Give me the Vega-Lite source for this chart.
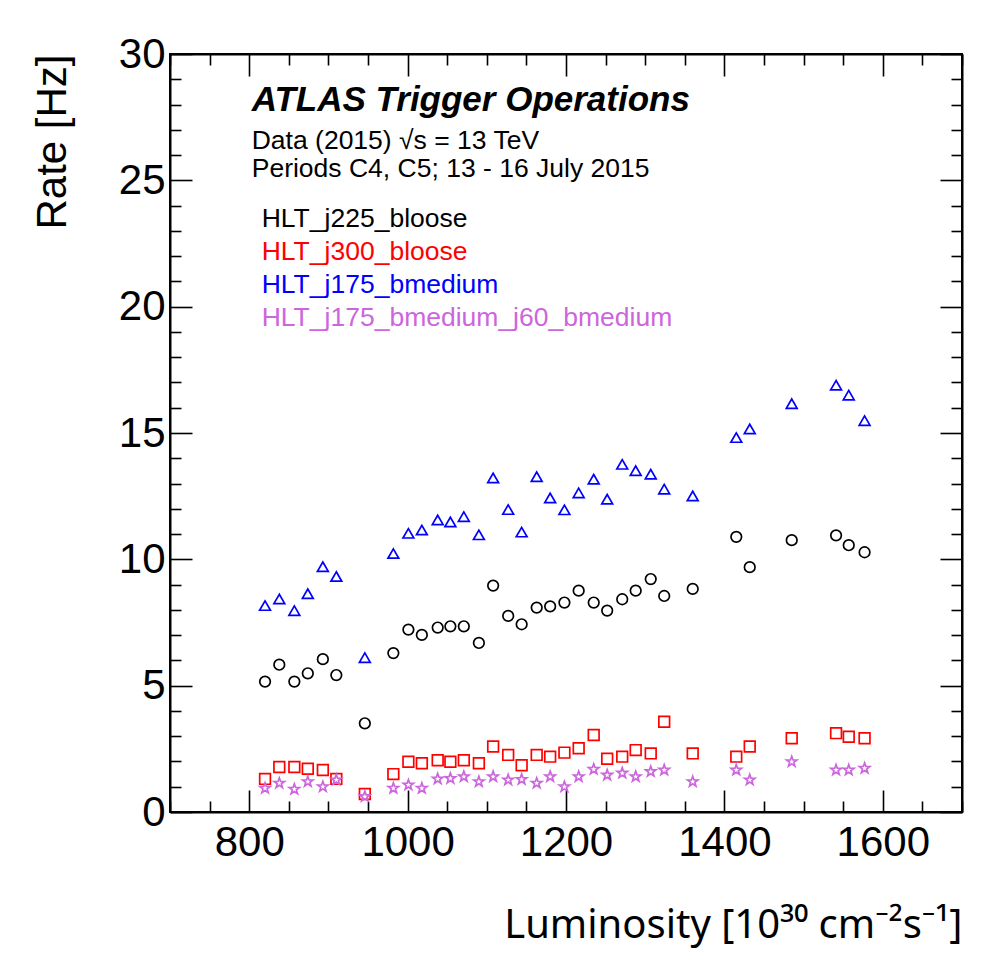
{
  "$schema": "https://vega.github.io/schema/vega-lite/v6.json",
  "width": 792,
  "height": 758,
  "autosize": {"type": "none"},
  "padding": {"left": 170, "top": 54, "right": 31, "bottom": 151},
  "background": "white",
  "config": {"view": {"stroke": "black", "strokeWidth": 2}, "font": "Liberation Sans"},
  "datasets": {
    "rates": [
      {"lumi": 820, "rate": 5.16, "trigger": "HLT_j225_bloose"},
      {"lumi": 838, "rate": 5.83, "trigger": "HLT_j225_bloose"},
      {"lumi": 857, "rate": 5.16, "trigger": "HLT_j225_bloose"},
      {"lumi": 874, "rate": 5.49, "trigger": "HLT_j225_bloose"},
      {"lumi": 893, "rate": 6.05, "trigger": "HLT_j225_bloose"},
      {"lumi": 910, "rate": 5.42, "trigger": "HLT_j225_bloose"},
      {"lumi": 946, "rate": 3.51, "trigger": "HLT_j225_bloose"},
      {"lumi": 982, "rate": 6.29, "trigger": "HLT_j225_bloose"},
      {"lumi": 1001, "rate": 7.22, "trigger": "HLT_j225_bloose"},
      {"lumi": 1018, "rate": 7.01, "trigger": "HLT_j225_bloose"},
      {"lumi": 1038, "rate": 7.30, "trigger": "HLT_j225_bloose"},
      {"lumi": 1054, "rate": 7.35, "trigger": "HLT_j225_bloose"},
      {"lumi": 1071, "rate": 7.35, "trigger": "HLT_j225_bloose"},
      {"lumi": 1090, "rate": 6.69, "trigger": "HLT_j225_bloose"},
      {"lumi": 1108, "rate": 8.96, "trigger": "HLT_j225_bloose"},
      {"lumi": 1127, "rate": 7.76, "trigger": "HLT_j225_bloose"},
      {"lumi": 1144, "rate": 7.43, "trigger": "HLT_j225_bloose"},
      {"lumi": 1163, "rate": 8.09, "trigger": "HLT_j225_bloose"},
      {"lumi": 1180, "rate": 8.14, "trigger": "HLT_j225_bloose"},
      {"lumi": 1198, "rate": 8.29, "trigger": "HLT_j225_bloose"},
      {"lumi": 1216, "rate": 8.76, "trigger": "HLT_j225_bloose"},
      {"lumi": 1235, "rate": 8.29, "trigger": "HLT_j225_bloose"},
      {"lumi": 1252, "rate": 7.97, "trigger": "HLT_j225_bloose"},
      {"lumi": 1271, "rate": 8.42, "trigger": "HLT_j225_bloose"},
      {"lumi": 1288, "rate": 8.76, "trigger": "HLT_j225_bloose"},
      {"lumi": 1307, "rate": 9.22, "trigger": "HLT_j225_bloose"},
      {"lumi": 1324, "rate": 8.55, "trigger": "HLT_j225_bloose"},
      {"lumi": 1360, "rate": 8.83, "trigger": "HLT_j225_bloose"},
      {"lumi": 1415, "rate": 10.89, "trigger": "HLT_j225_bloose"},
      {"lumi": 1432, "rate": 9.69, "trigger": "HLT_j225_bloose"},
      {"lumi": 1485, "rate": 10.76, "trigger": "HLT_j225_bloose"},
      {"lumi": 1541, "rate": 10.95, "trigger": "HLT_j225_bloose"},
      {"lumi": 1557, "rate": 10.56, "trigger": "HLT_j225_bloose"},
      {"lumi": 1577, "rate": 10.28, "trigger": "HLT_j225_bloose"},
      {"lumi": 820, "rate": 1.31, "trigger": "HLT_j300_bloose"},
      {"lumi": 838, "rate": 1.78, "trigger": "HLT_j300_bloose"},
      {"lumi": 857, "rate": 1.78, "trigger": "HLT_j300_bloose"},
      {"lumi": 874, "rate": 1.71, "trigger": "HLT_j300_bloose"},
      {"lumi": 893, "rate": 1.66, "trigger": "HLT_j300_bloose"},
      {"lumi": 910, "rate": 1.31, "trigger": "HLT_j300_bloose"},
      {"lumi": 946, "rate": 0.71, "trigger": "HLT_j300_bloose"},
      {"lumi": 982, "rate": 1.50, "trigger": "HLT_j300_bloose"},
      {"lumi": 1001, "rate": 1.99, "trigger": "HLT_j300_bloose"},
      {"lumi": 1018, "rate": 1.93, "trigger": "HLT_j300_bloose"},
      {"lumi": 1038, "rate": 2.05, "trigger": "HLT_j300_bloose"},
      {"lumi": 1054, "rate": 1.99, "trigger": "HLT_j300_bloose"},
      {"lumi": 1071, "rate": 2.05, "trigger": "HLT_j300_bloose"},
      {"lumi": 1090, "rate": 1.93, "trigger": "HLT_j300_bloose"},
      {"lumi": 1108, "rate": 2.59, "trigger": "HLT_j300_bloose"},
      {"lumi": 1127, "rate": 2.26, "trigger": "HLT_j300_bloose"},
      {"lumi": 1144, "rate": 1.85, "trigger": "HLT_j300_bloose"},
      {"lumi": 1163, "rate": 2.26, "trigger": "HLT_j300_bloose"},
      {"lumi": 1180, "rate": 2.19, "trigger": "HLT_j300_bloose"},
      {"lumi": 1198, "rate": 2.35, "trigger": "HLT_j300_bloose"},
      {"lumi": 1216, "rate": 2.52, "trigger": "HLT_j300_bloose"},
      {"lumi": 1235, "rate": 3.05, "trigger": "HLT_j300_bloose"},
      {"lumi": 1252, "rate": 2.11, "trigger": "HLT_j300_bloose"},
      {"lumi": 1271, "rate": 2.19, "trigger": "HLT_j300_bloose"},
      {"lumi": 1288, "rate": 2.45, "trigger": "HLT_j300_bloose"},
      {"lumi": 1307, "rate": 2.32, "trigger": "HLT_j300_bloose"},
      {"lumi": 1324, "rate": 3.57, "trigger": "HLT_j300_bloose"},
      {"lumi": 1360, "rate": 2.32, "trigger": "HLT_j300_bloose"},
      {"lumi": 1415, "rate": 2.19, "trigger": "HLT_j300_bloose"},
      {"lumi": 1432, "rate": 2.59, "trigger": "HLT_j300_bloose"},
      {"lumi": 1485, "rate": 2.92, "trigger": "HLT_j300_bloose"},
      {"lumi": 1541, "rate": 3.12, "trigger": "HLT_j300_bloose"},
      {"lumi": 1557, "rate": 2.98, "trigger": "HLT_j300_bloose"},
      {"lumi": 1577, "rate": 2.92, "trigger": "HLT_j300_bloose"},
      {"lumi": 820, "rate": 8.17, "trigger": "HLT_j175_bmedium"},
      {"lumi": 838, "rate": 8.43, "trigger": "HLT_j175_bmedium"},
      {"lumi": 857, "rate": 7.97, "trigger": "HLT_j175_bmedium"},
      {"lumi": 874, "rate": 8.64, "trigger": "HLT_j175_bmedium"},
      {"lumi": 893, "rate": 9.71, "trigger": "HLT_j175_bmedium"},
      {"lumi": 910, "rate": 9.32, "trigger": "HLT_j175_bmedium"},
      {"lumi": 946, "rate": 6.11, "trigger": "HLT_j175_bmedium"},
      {"lumi": 982, "rate": 10.23, "trigger": "HLT_j175_bmedium"},
      {"lumi": 1001, "rate": 11.03, "trigger": "HLT_j175_bmedium"},
      {"lumi": 1018, "rate": 11.16, "trigger": "HLT_j175_bmedium"},
      {"lumi": 1038, "rate": 11.56, "trigger": "HLT_j175_bmedium"},
      {"lumi": 1054, "rate": 11.48, "trigger": "HLT_j175_bmedium"},
      {"lumi": 1071, "rate": 11.69, "trigger": "HLT_j175_bmedium"},
      {"lumi": 1090, "rate": 10.97, "trigger": "HLT_j175_bmedium"},
      {"lumi": 1108, "rate": 13.22, "trigger": "HLT_j175_bmedium"},
      {"lumi": 1127, "rate": 11.97, "trigger": "HLT_j175_bmedium"},
      {"lumi": 1144, "rate": 11.08, "trigger": "HLT_j175_bmedium"},
      {"lumi": 1163, "rate": 13.27, "trigger": "HLT_j175_bmedium"},
      {"lumi": 1180, "rate": 12.43, "trigger": "HLT_j175_bmedium"},
      {"lumi": 1198, "rate": 11.96, "trigger": "HLT_j175_bmedium"},
      {"lumi": 1216, "rate": 12.63, "trigger": "HLT_j175_bmedium"},
      {"lumi": 1235, "rate": 13.17, "trigger": "HLT_j175_bmedium"},
      {"lumi": 1252, "rate": 12.38, "trigger": "HLT_j175_bmedium"},
      {"lumi": 1271, "rate": 13.76, "trigger": "HLT_j175_bmedium"},
      {"lumi": 1288, "rate": 13.51, "trigger": "HLT_j175_bmedium"},
      {"lumi": 1307, "rate": 13.37, "trigger": "HLT_j175_bmedium"},
      {"lumi": 1324, "rate": 12.78, "trigger": "HLT_j175_bmedium"},
      {"lumi": 1360, "rate": 12.51, "trigger": "HLT_j175_bmedium"},
      {"lumi": 1415, "rate": 14.82, "trigger": "HLT_j175_bmedium"},
      {"lumi": 1432, "rate": 15.16, "trigger": "HLT_j175_bmedium"},
      {"lumi": 1485, "rate": 16.16, "trigger": "HLT_j175_bmedium"},
      {"lumi": 1541, "rate": 16.89, "trigger": "HLT_j175_bmedium"},
      {"lumi": 1557, "rate": 16.50, "trigger": "HLT_j175_bmedium"},
      {"lumi": 1577, "rate": 15.49, "trigger": "HLT_j175_bmedium"},
      {"lumi": 820, "rate": 0.94, "trigger": "HLT_j175_bmedium_j60_bmedium"},
      {"lumi": 838, "rate": 1.14, "trigger": "HLT_j175_bmedium_j60_bmedium"},
      {"lumi": 857, "rate": 0.90, "trigger": "HLT_j175_bmedium_j60_bmedium"},
      {"lumi": 874, "rate": 1.20, "trigger": "HLT_j175_bmedium_j60_bmedium"},
      {"lumi": 893, "rate": 1.00, "trigger": "HLT_j175_bmedium_j60_bmedium"},
      {"lumi": 910, "rate": 1.27, "trigger": "HLT_j175_bmedium_j60_bmedium"},
      {"lumi": 946, "rate": 0.61, "trigger": "HLT_j175_bmedium_j60_bmedium"},
      {"lumi": 982, "rate": 0.94, "trigger": "HLT_j175_bmedium_j60_bmedium"},
      {"lumi": 1001, "rate": 1.07, "trigger": "HLT_j175_bmedium_j60_bmedium"},
      {"lumi": 1018, "rate": 0.94, "trigger": "HLT_j175_bmedium_j60_bmedium"},
      {"lumi": 1038, "rate": 1.31, "trigger": "HLT_j175_bmedium_j60_bmedium"},
      {"lumi": 1054, "rate": 1.33, "trigger": "HLT_j175_bmedium_j60_bmedium"},
      {"lumi": 1071, "rate": 1.40, "trigger": "HLT_j175_bmedium_j60_bmedium"},
      {"lumi": 1090, "rate": 1.20, "trigger": "HLT_j175_bmedium_j60_bmedium"},
      {"lumi": 1108, "rate": 1.40, "trigger": "HLT_j175_bmedium_j60_bmedium"},
      {"lumi": 1127, "rate": 1.27, "trigger": "HLT_j175_bmedium_j60_bmedium"},
      {"lumi": 1144, "rate": 1.29, "trigger": "HLT_j175_bmedium_j60_bmedium"},
      {"lumi": 1163, "rate": 1.14, "trigger": "HLT_j175_bmedium_j60_bmedium"},
      {"lumi": 1180, "rate": 1.40, "trigger": "HLT_j175_bmedium_j60_bmedium"},
      {"lumi": 1198, "rate": 1.00, "trigger": "HLT_j175_bmedium_j60_bmedium"},
      {"lumi": 1216, "rate": 1.40, "trigger": "HLT_j175_bmedium_j60_bmedium"},
      {"lumi": 1235, "rate": 1.69, "trigger": "HLT_j175_bmedium_j60_bmedium"},
      {"lumi": 1252, "rate": 1.46, "trigger": "HLT_j175_bmedium_j60_bmedium"},
      {"lumi": 1271, "rate": 1.54, "trigger": "HLT_j175_bmedium_j60_bmedium"},
      {"lumi": 1288, "rate": 1.40, "trigger": "HLT_j175_bmedium_j60_bmedium"},
      {"lumi": 1307, "rate": 1.60, "trigger": "HLT_j175_bmedium_j60_bmedium"},
      {"lumi": 1324, "rate": 1.66, "trigger": "HLT_j175_bmedium_j60_bmedium"},
      {"lumi": 1360, "rate": 1.20, "trigger": "HLT_j175_bmedium_j60_bmedium"},
      {"lumi": 1415, "rate": 1.66, "trigger": "HLT_j175_bmedium_j60_bmedium"},
      {"lumi": 1432, "rate": 1.27, "trigger": "HLT_j175_bmedium_j60_bmedium"},
      {"lumi": 1485, "rate": 1.99, "trigger": "HLT_j175_bmedium_j60_bmedium"},
      {"lumi": 1541, "rate": 1.66, "trigger": "HLT_j175_bmedium_j60_bmedium"},
      {"lumi": 1557, "rate": 1.66, "trigger": "HLT_j175_bmedium_j60_bmedium"},
      {"lumi": 1577, "rate": 1.73, "trigger": "HLT_j175_bmedium_j60_bmedium"}
    ],
    "legendRows": [
      {"lumi": 815.8, "rate": 23.16, "trigger": "HLT_j225_bloose"},
      {"lumi": 815.8, "rate": 21.85, "trigger": "HLT_j300_bloose"},
      {"lumi": 815.8, "rate": 20.55, "trigger": "HLT_j175_bmedium"},
      {"lumi": 815.8, "rate": 19.23, "trigger": "HLT_j175_bmedium_j60_bmedium"}
    ],
    "headline": [
      {"lumi": 803.2, "rate": 27.76, "label": "ATLAS Trigger Operations"}
    ],
    "info": [
      {"lumi": 803.2, "rate": 26.23, "label": "Data (2015) √s = 13 TeV"},
      {"lumi": 803.2, "rate": 25.12, "label": "Periods C4, C5; 13 - 16 July 2015"}
    ]
  },
  "layer": [
    {
      "data": {"name": "rates"},
      "mark": {"type": "point", "filled": false, "strokeWidth": 1.7, "opacity": 1},
      "encoding": {
        "x": {
          "field": "lumi", "type": "quantitative",
          "scale": {"domain": [700, 1700], "nice": false, "zero": false},
          "axis": {
            "orient": "bottom",
            "values": [700,750,800,850,900,950,1000,1050,1100,1150,1200,1250,1300,1350,1400,1450,1500,1550,1600,1650,1700],
            "format": "d",
            "tickSize": {"condition": {"test": "datum.value % 200 === 0", "value": -22}, "value": -11},
            "tickColor": "black", "tickWidth": 1.6,
            "domainColor": "black", "domainWidth": 2,
            "grid": false,
            "labelExpr": "datum.value % 200 === 0 ? datum.label : ''",
            "labelFont": "Liberation Sans", "labelFontSize": 42, "labelColor": "black",
            "labelPadding": 32, "labelFlush": false, "labelOverlap": false,
            "title": "Luminosity [10³⁰ cm⁻²s⁻¹]",
            "titleFont": "Noto Sans", "titleFontSize": 40, "titleFontWeight": "normal", "titleColor": "black",
            "titleAnchor": "end", "titleBaseline": "alphabetic", "titleY": 125
          }
        },
        "y": {
          "field": "rate", "type": "quantitative",
          "scale": {"domain": [0, 30], "nice": false, "zero": true},
          "axis": {
            "orient": "left",
            "values": [0,1,2,3,4,5,6,7,8,9,10,11,12,13,14,15,16,17,18,19,20,21,22,23,24,25,26,27,28,29,30],
            "format": "d",
            "tickSize": {"condition": {"test": "datum.value % 5 === 0", "value": -22}, "value": -11},
            "tickColor": "black", "tickWidth": 1.6,
            "domainColor": "black", "domainWidth": 2,
            "grid": false,
            "labelExpr": "datum.value % 5 === 0 ? datum.label : ''",
            "labelFont": "Liberation Sans", "labelFontSize": 42, "labelColor": "black",
            "labelPadding": 27, "labelFlush": false, "labelOverlap": false,
            "title": "Rate [Hz]",
            "titleFont": "Liberation Sans", "titleFontSize": 42, "titleFontWeight": "normal", "titleColor": "black",
            "titleAnchor": "end", "titleBaseline": "alphabetic", "titleX": -105, "titleY": 0, "titleAngle": -90
          }
        },
        "color": {
          "field": "trigger", "type": "nominal",
          "scale": {
            "domain": ["HLT_j225_bloose", "HLT_j300_bloose", "HLT_j175_bmedium", "HLT_j175_bmedium_j60_bmedium"],
            "range": ["#000000", "#ff0000", "#0000ff", "#cc66dd"]
          },
          "legend": null
        },
        "shape": {
          "field": "trigger", "type": "nominal",
          "scale": {
            "domain": ["HLT_j225_bloose", "HLT_j300_bloose", "HLT_j175_bmedium", "HLT_j175_bmedium_j60_bmedium"],
            "range": ["circle", "square", "triangle-up", "M0,-1L0.235,-0.324L0.951,-0.309L0.380,0.124L0.588,0.809L0,0.4L-0.588,0.809L-0.380,0.124L-0.951,-0.309L-0.235,-0.324Z"]
          },
          "legend": null
        },
        "size": {
          "field": "trigger", "type": "nominal",
          "scale": {
            "domain": ["HLT_j225_bloose", "HLT_j300_bloose", "HLT_j175_bmedium", "HLT_j175_bmedium_j60_bmedium"],
            "range": [112, 120, 175, 185]
          },
          "legend": null
        }
      }
    },
    {
      "data": {"name": "legendRows"},
      "mark": {"type": "text", "align": "left", "baseline": "alphabetic", "font": "Liberation Sans", "fontSize": 26.5},
      "encoding": {
        "x": {
          "field": "lumi", "type": "quantitative",
          "axis": {
            "orient": "top",
            "values": [700,750,800,850,900,950,1000,1050,1100,1150,1200,1250,1300,1350,1400,1450,1500,1550,1600,1650,1700],
            "tickSize": {"condition": {"test": "datum.value % 200 === 0", "value": -22}, "value": -11},
            "tickColor": "black", "tickWidth": 1.6,
            "domainColor": "black", "domainWidth": 2,
            "grid": false, "labels": false, "title": null
          }
        },
        "y": {
          "field": "rate", "type": "quantitative",
          "axis": {
            "orient": "right",
            "values": [0,1,2,3,4,5,6,7,8,9,10,11,12,13,14,15,16,17,18,19,20,21,22,23,24,25,26,27,28,29,30],
            "tickSize": {"condition": {"test": "datum.value % 5 === 0", "value": -22}, "value": -11},
            "tickColor": "black", "tickWidth": 1.6,
            "domainColor": "black", "domainWidth": 2,
            "grid": false, "labels": false, "title": null
          }
        },
        "text": {"field": "trigger"},
        "color": {"field": "trigger", "type": "nominal", "legend": null}
      }
    },
    {
      "data": {"name": "headline"},
      "mark": {"type": "text", "align": "left", "baseline": "alphabetic", "font": "Liberation Sans", "fontSize": 35, "fontWeight": "bold", "fontStyle": "italic", "color": "black"},
      "encoding": {
        "x": {"field": "lumi", "type": "quantitative", "axis": null},
        "y": {"field": "rate", "type": "quantitative", "axis": null},
        "text": {"field": "label"}
      }
    },
    {
      "data": {"name": "info"},
      "mark": {"type": "text", "align": "left", "baseline": "alphabetic", "font": "Liberation Sans", "fontSize": 26.5, "color": "black"},
      "encoding": {
        "x": {"field": "lumi", "type": "quantitative", "axis": null},
        "y": {"field": "rate", "type": "quantitative", "axis": null},
        "text": {"field": "label"}
      }
    }
  ],
  "resolve": {"axis": {"x": "independent", "y": "independent"}}
}
